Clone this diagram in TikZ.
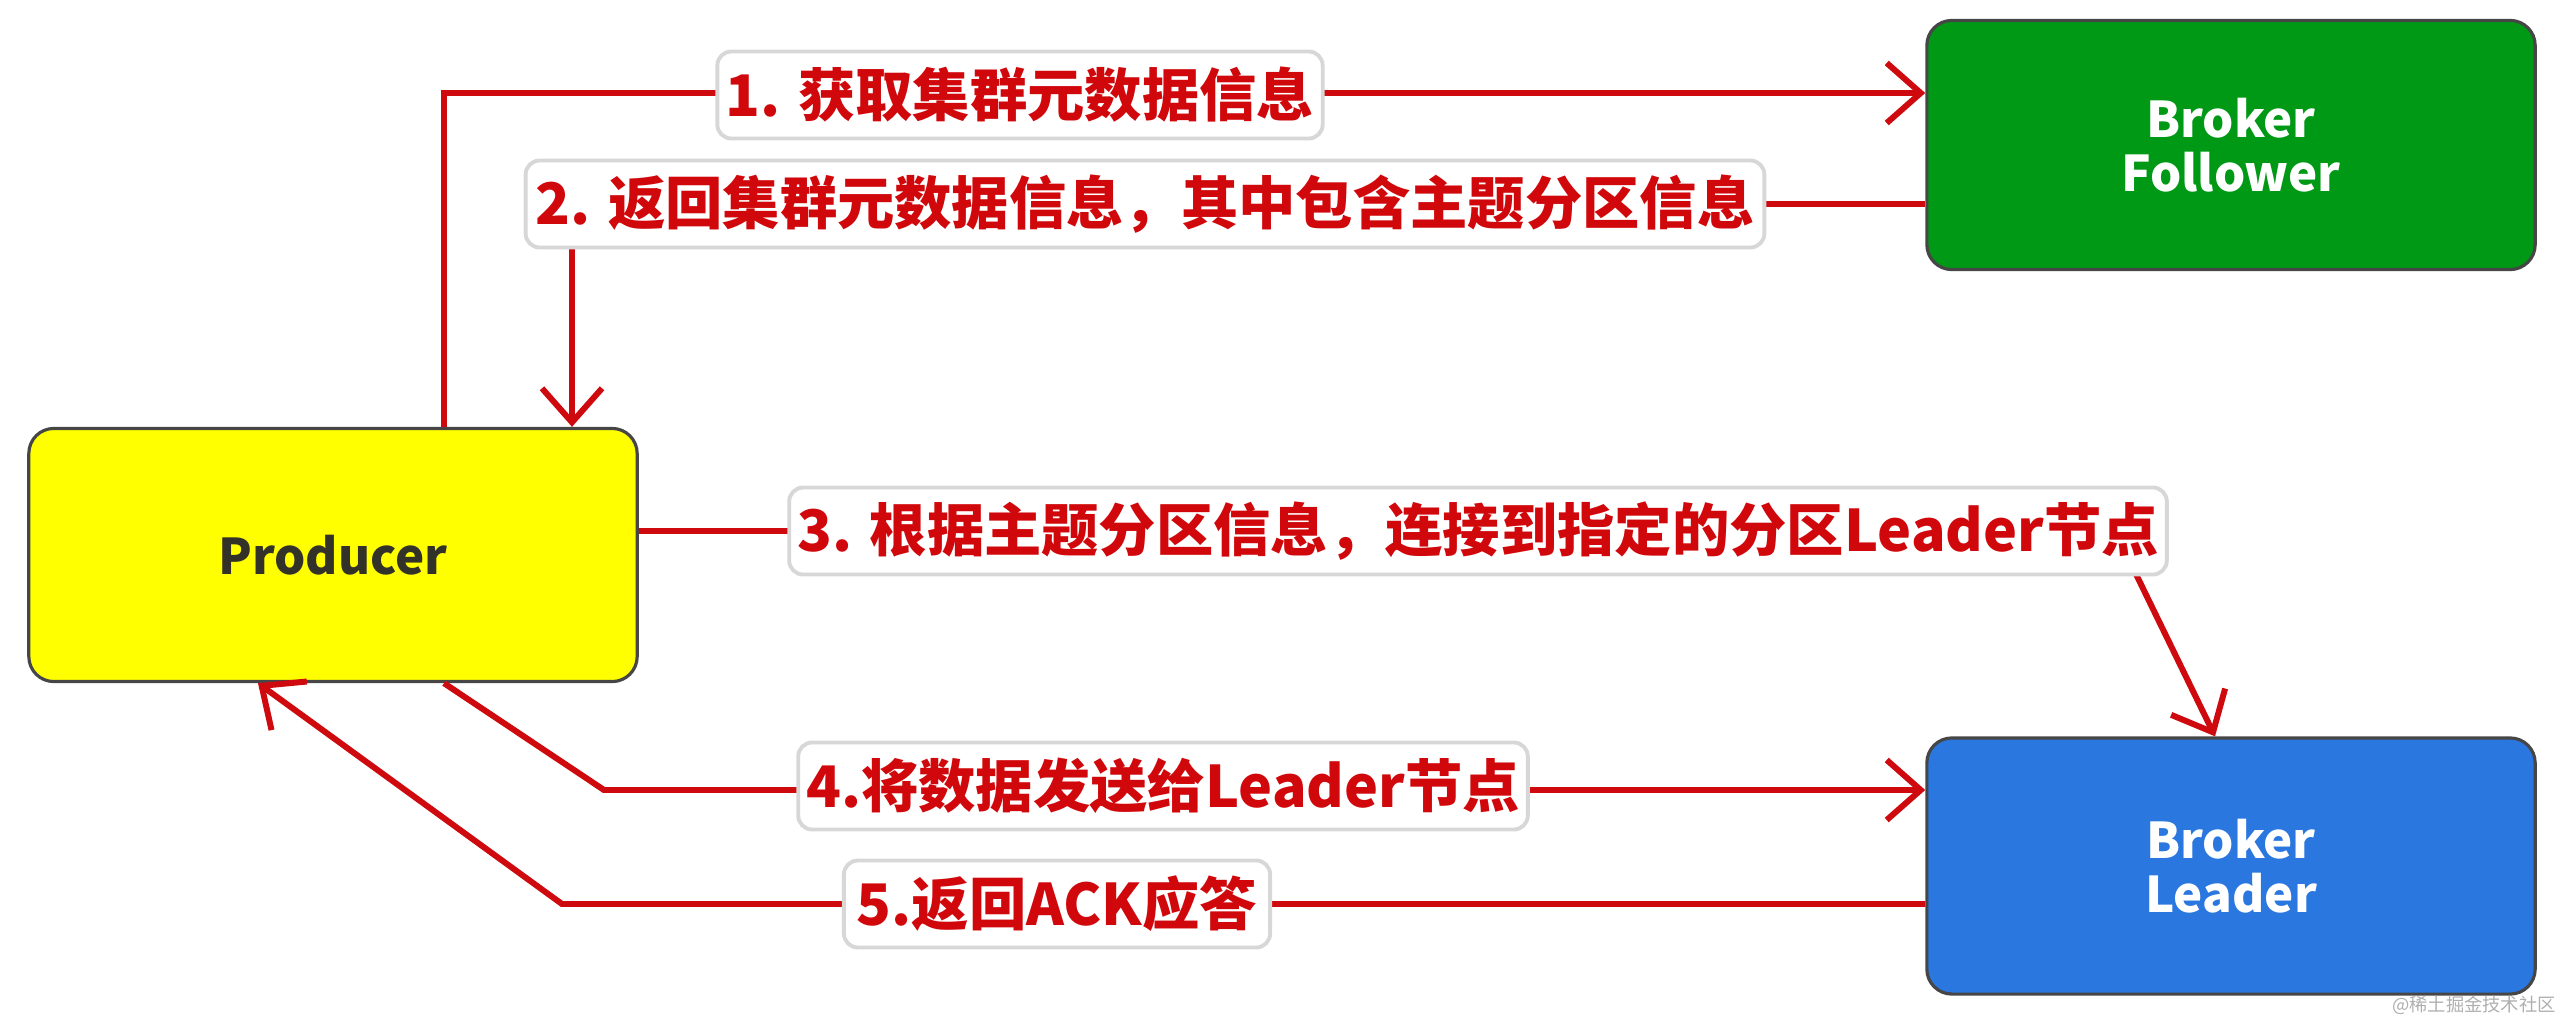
\documentclass[tikz,border=0pt]{standalone}
\usepackage{fontspec}
\setmainfont{Noto Sans CJK SC}
\newfontfamily\cjk{Noto Sans CJK SC}
\usetikzlibrary{arrows.meta,calc}
\definecolor{lblred}{RGB}{208,8,12}
\definecolor{linered}{RGB}{206,10,14}
\definecolor{folgreen}{RGB}{0,153,22}
\definecolor{leadblue}{RGB}{42,119,224}
\definecolor{prodyellow}{RGB}{255,255,0}
\definecolor{boxborder}{RGB}{70,70,70}
\definecolor{lblborder}{RGB}{215,215,215}
\definecolor{wmgray}{RGB}{175,175,175}
\tikzset{
  boxnode/.style={draw=boxborder, line width=0.9pt, rounded corners=0.25cm,
    minimum width=6.08cm, align=center, font=\cjk\bfseries\fontsize{14}{15.5}\selectfont},
  lblnode/.style={draw=lblborder, fill=white, line width=1.1pt, rounded corners=0.14cm,
    minimum height=0.87cm, inner xsep=0.08cm, inner ysep=0pt, text=lblred,
    font=\cjk\bfseries\fontsize{16.3}{18}\selectfont},
  arr/.style={draw=linered, line width=1.7pt,
    -{Straight Barb[length=0.34cm,width=0.6cm,line width=1.7pt]}}
}
\begin{document}
\begin{tikzpicture}[x=0.01cm,y=-0.01cm]
\useasboundingbox (0,0) rectangle (2560,1021);
% boxes
\node[boxnode, fill=prodyellow, text={rgb,255:red,50;green,50;blue,40}, minimum height=2.53cm] (prod) at (333,555) {Producer};
\node[boxnode, fill=folgreen, text=white, minimum height=2.49cm] (fol) at (2231,145) {Broker\\Follower};
\node[boxnode, fill=leadblue, text=white, minimum height=2.56cm] (lead) at (2231,866) {Broker\\Leader};
% coordinates
\coordinate (c1) at (444,93);
\coordinate (c2) at (572,204);
\coordinate (c3) at (2115,531);
\coordinate (c3e) at (2215,531);
\coordinate (c4) at (604,790);
\coordinate (c5) at (562,904);
\coordinate (c5e) at (258,904);
% connectors
\draw[arr] (prod.north -| c1) |- (fol.west |- c1);
\draw[arr] (fol.west |- c2) -| (prod.north -| c2);
\draw[arr] (prod.east |- c3) -- (c3) -- (lead.north -| c3e);
\draw[arr] (prod.south -| c1) -- (c4) -- (lead.west |- c4);
\draw[arr] (lead.west |- c5) -- (c5) -- (prod.south -| c5e);
% labels
\node[lblnode, minimum width=6.05cm] (l1) at (1020,95) {1. 获取集群元数据信息};
\node[lblnode, minimum width=12.38cm] (l2) at (1145,204) {2. 返回集群元数据信息，其中包含主题分区信息};
\node[lblnode, minimum width=13.72cm] (l3) at (1478,531) {3. 根据主题分区信息，连接到指定的分区Leader节点};
\node[lblnode, minimum width=7.27cm] (l4) at (1163,786) {4.将数据发送给Leader节点};
\node[lblnode, minimum width=4.26cm] (l5) at (1057,904) {5.返回ACK应答};
% watermark
\node[text=wmgray, font=\cjk\fontsize{5.2}{6}\selectfont, inner sep=0pt] (wm) at (2474,1005) {@稀土掘金技术社区};
\end{tikzpicture}
\end{document}
